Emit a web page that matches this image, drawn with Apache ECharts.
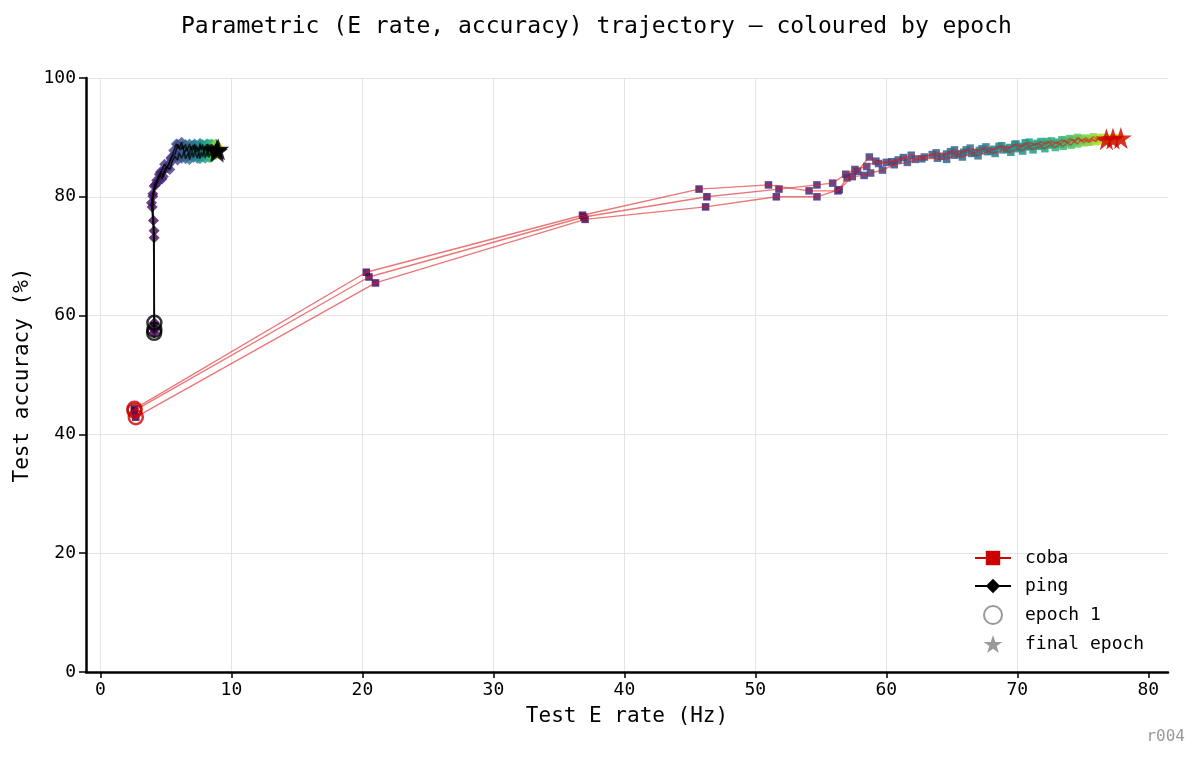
<!DOCTYPE html>
<html>
<head>
<meta charset="utf-8">
<script src="https://cdn.jsdelivr.net/npm/echarts@6/dist/echarts.min.js"></script>
<style>
html,body{margin:0;padding:0;background:#fff;}
#chart{width:1200px;height:761px;}
</style>
</head>
<body>
<div id="chart"></div>
<script>
// [test E rate (Hz), test accuracy (%)] for each epoch, one array per run
var cobaRun1 = [
	[2.6,44.3],[20.3,67.3],[36.8,76.9],[45.7,81.3],[51.0,82.0],[54.1,81.0],[56.3,81.0],
	[57.0,83.2],[57.8,84.3],[58.7,86.7],[59.4,85.6],
	[60.4,85.9],[61.3,86.6],[62.2,86.3],[63.5,87.1],
	[64.2,86.8],[64.9,87.6],[65.5,87.2],[66.1,87.9],[66.7,87.4],[67.3,88.1],[67.9,87.7],[68.6,88.5],[69.2,88.0],[69.8,88.8],
	[70.2,88.3],[70.6,89.1],[71.0,88.5],[71.5,89.0],[71.9,88.6],[72.3,89.3],[72.7,88.8],[73.0,89.2],[73.3,88.9],[73.6,89.5],
	[73.9,89.1],[74.2,89.7],[74.4,89.3],[74.7,89.8],[74.9,89.4],[75.2,89.6],[75.4,89.2],[75.7,89.8],[75.9,89.4],[76.1,89.7],
	[76.3,89.5],[76.5,89.9],[76.7,89.6],[76.9,89.7],[77.3,89.8]
];
var cobaRun2 = [
	[2.7,42.9],[21.0,65.5],[37.0,76.2],[46.2,78.3],[51.6,80.0],[54.7,80.0],[56.4,81.2],
	[57.4,83.4],[58.3,83.6],[58.8,84.0],[59.7,84.5],
	[60.6,85.4],[61.6,85.8],[62.7,86.4],[63.9,86.5],
	[64.6,86.3],[65.2,87.0],[65.8,86.7],[66.5,87.3],[67.0,86.9],[67.7,87.6],[68.3,87.3],[68.9,87.9],[69.5,87.5],[70.0,88.1],
	[70.4,87.7],[70.8,88.4],[71.2,87.9],[71.7,88.5],[72.1,88.1],[72.5,88.7],[72.9,88.3],[73.2,88.9],[73.5,88.5],[73.8,89.1],
	[74.1,88.7],[74.3,89.3],[74.6,88.9],[74.8,89.5],[75.1,89.1],[75.3,89.6],[75.5,89.2],[75.8,89.6],[76.0,89.3],[76.2,89.8],
	[76.4,89.4],[76.6,89.7],[76.7,89.5],[76.8,89.8],[76.8,89.7]
];
var cobaRun3 = [
	[2.6,44.0],[20.5,66.5],[36.9,76.6],[46.3,80.0],[51.8,81.3],[54.7,82.0],[55.9,82.3],
	[56.9,83.8],[57.6,84.6],[58.5,85.1],[59.2,86.0],
	[60.0,85.8],[60.9,86.2],[61.9,87.0],[62.9,86.7],
	[63.8,87.4],[64.6,87.2],[65.2,87.9],[65.9,87.5],[66.4,88.2],[67.1,87.8],[67.6,88.4],[68.2,88.0],[68.8,88.6],[69.4,88.3],
	[69.9,88.9],[70.4,88.5],[70.9,89.2],[71.4,88.7],[71.8,89.3],[72.2,88.9],[72.6,89.4],[73.0,89.0],[73.4,89.6],[73.7,89.2],
	[74.0,89.8],[74.3,89.4],[74.6,90.0],[74.9,89.5],[75.2,89.9],[75.5,89.6],[75.8,90.1],[76.1,89.7],[76.4,90.0],[76.7,89.6],
	[77.0,89.9],[77.2,89.6],[77.5,90.0],[77.7,89.8],[77.9,89.9]
];

var pingRun1 = [
	[4.12,58.8],[4.05,76.0],[4.0,80.1],[4.3,82.3],[4.5,83.8],[4.7,83.0],[4.9,84.6],[5.2,85.4],[5.4,86.6],[5.7,87.2],
	[5.9,88.8],[6.1,87.9],[6.3,88.6],[6.4,87.4],[6.6,88.2],[6.8,87.0],[6.9,88.5],[7.0,87.6],[7.2,88.9],[7.3,87.5],
	[7.4,88.3],[7.5,87.1],[7.6,88.7],[7.7,87.8],[7.8,88.4],[7.9,87.3],[8.0,88.6],[8.1,87.6],[8.1,88.9],[8.2,87.2],
	[8.3,88.5],[8.3,87.7],[8.4,88.8],[8.4,87.4],[8.5,88.3],[8.5,87.0],[8.6,88.7],[8.6,87.8],[8.7,88.4],[8.7,87.5],
	[8.8,88.9],[8.7,87.9],[8.8,88.2],[8.8,87.6],[8.9,88.6],[8.8,87.8],[8.9,88.3],[8.8,87.7],[8.9,88.1],[8.9,87.9]
];
var pingRun2 = [
	[4.12,57.6],[4.1,74.3],[3.95,78.3],[4.1,81.8],[4.3,82.8],[4.6,84.2],[4.8,83.4],[5.1,85.0],[5.3,84.6],[5.5,86.1],
	[5.7,86.8],[5.9,86.2],[6.0,87.4],[6.2,86.5],[6.4,87.6],[6.5,86.4],[6.7,87.3],[6.8,86.3],[7.0,87.5],[7.1,86.6],
	[7.2,87.7],[7.4,86.5],[7.5,87.4],[7.6,86.4],[7.7,87.6],[7.8,86.7],[7.9,87.8],[8.0,86.5],[8.1,87.5],[8.2,86.8],
	[8.2,87.9],[8.3,86.6],[8.4,87.6],[8.4,86.9],[8.5,88.0],[8.5,86.7],[8.6,87.7],[8.6,87.0],[8.7,88.1],[8.7,87.2],
	[8.7,88.3],[8.8,87.1],[8.8,87.9],[8.8,87.3],[8.9,88.2],[8.8,87.4],[8.9,87.8],[8.9,87.5],[9.0,87.9],[8.9,87.6]
];
var pingRun3 = [
	[4.1,57.1],[4.1,73.1],[3.9,79.0],[4.0,80.5],[4.2,82.0],[4.4,82.6],[4.6,84.0],[4.9,85.5],[5.1,84.9],[5.4,86.4],
	[5.6,87.8],[5.8,88.9],[6.0,88.1],[6.2,89.2],[6.3,88.0],[6.5,88.8],[6.6,87.7],[6.8,88.9],[6.9,87.9],[7.1,88.7],
	[7.2,87.6],[7.3,88.6],[7.5,87.8],[7.6,89.0],[7.7,88.1],[7.8,88.8],[7.9,87.9],[8.0,88.5],[8.1,87.6],[8.2,88.9],
	[8.3,88.2],[8.3,88.7],[8.4,87.8],[8.5,88.9],[8.5,88.0],[8.6,88.6],[8.6,87.7],[8.7,88.5],[8.7,88.0],[8.8,88.8],
	[8.8,87.9],[8.8,88.6],[8.9,88.0],[8.9,88.4],[8.9,87.8],[9.0,88.3],[8.9,88.1],[9.0,88.2],[9.0,87.9],[9.0,88.0]
];

var xTicks = [0,10,20,30,40,50,60,70,80];
var yTicks = [0,20,40,60,80,100];

var FONT = 'DejaVu Sans Mono';
var viridis = ['#440154','#482878','#3e4989','#31688e','#26828e','#1f9e89','#35b779','#6ece58','#b5de2b','#fde725'];
var starPath = 'path://M50 0 L61.23 34.55 L97.55 34.55 L68.17 55.9 L79.39 90.45 L50 69.1 L20.61 90.45 L31.83 55.9 L2.45 34.55 L38.77 34.55 Z';

var cobaRuns = [cobaRun1, cobaRun2, cobaRun3];
var pingRuns = [pingRun1, pingRun2, pingRun3];

// every point gets its epoch number as a 3rd value, used for the colour
function withEpoch(runs){
	var out = [];
	for(var r=0;r<runs.length;r++){
		for(var i=0;i<runs[r].length;i++){
			out.push([runs[r][i][0], runs[r][i][1], i+1]);
		}
	}
	return out;
}
function firsts(runs){
	return runs.map(function(r){ return r[0]; });
}
function lasts(runs){
	return runs.map(function(r){ return r[r.length-1]; });
}

var series = [
	{
		name:'coba pts', type:'scatter', symbol:'rect', symbolSize:7.5, z:2,
		itemStyle:{opacity:0.85},
		data: withEpoch(cobaRuns)
	},
	{
		name:'ping pts', type:'scatter', symbol:'diamond', symbolSize:11, z:2,
		itemStyle:{opacity:0.8},
		data: withEpoch(pingRuns)
	}
];
cobaRuns.forEach(function(run){
	series.push({
		name:'coba', type:'line', symbol:'rect', showSymbol:false, z:3,
		itemStyle:{color:'#cc0000'},
		lineStyle:{color:'#dd1c1c', width:1.4, opacity:0.6},
		emphasis:{disabled:true},
		data: run
	});
});
pingRuns.forEach(function(run){
	series.push({
		name:'ping', type:'line', symbol:'diamond', showSymbol:false, z:3,
		itemStyle:{color:'#000'},
		lineStyle:{color:'#000', width:1.6, opacity:0.75},
		emphasis:{disabled:true},
		data: run
	});
});
series.push(
	{
		name:'epoch 1', type:'scatter', symbol:'circle', symbolSize:14, z:4,
		itemStyle:{color:'transparent', borderColor:'#cc0000', borderWidth:2.5},
		data: firsts(cobaRuns)
	},
	{
		name:'epoch 1', type:'scatter', symbol:'circle', symbolSize:14, z:4,
		itemStyle:{color:'transparent', borderColor:'#000', borderWidth:2.5},
		data: firsts(pingRuns)
	},
	{
		name:'final epoch', type:'scatter', symbol:starPath, symbolSize:22, z:5,
		itemStyle:{color:'#cc0000'},
		data: lasts(cobaRuns)
	},
	{
		name:'final epoch', type:'scatter', symbol:starPath, symbolSize:22, z:5,
		itemStyle:{color:'#000'},
		data: lasts(pingRuns)
	}
);

var myChart = echarts.init(document.getElementById('chart'));
myChart.setOption({
	animation:false,
	backgroundColor:'#fff',
	textStyle:{fontFamily:FONT},
	title:{
		text:'Parametric (E rate, accuracy) trajectory — coloured by epoch',
		left:176, top:11,
		textStyle:{fontFamily:FONT, fontSize:23, fontWeight:'normal', color:'#000'}
	},
	grid:{left:86, right:32, top:78, bottom:89},
	xAxis:{
		type:'value', min:-1.1, max:81.5,
		name:'Test E rate (Hz)', nameLocation:'middle', nameGap:34,
		nameTextStyle:{fontFamily:FONT, fontSize:21, color:'#000'},
		axisLine:{show:true, onZero:false, lineStyle:{color:'#000', width:2.5}},
		axisTick:{show:true, length:6, customValues:xTicks, lineStyle:{color:'#000', width:1.5}},
		axisLabel:{customValues:xTicks, fontFamily:FONT, fontSize:18, color:'#000', margin:9},
		splitLine:{show:true, showMaxLine:false, lineStyle:{color:'#dddddd', width:0.8}}
	},
	yAxis:{
		type:'value', min:0, max:100, interval:20,
		name:'Test accuracy (%)', nameLocation:'middle', nameGap:47,
		nameTextStyle:{fontFamily:FONT, fontSize:21, color:'#000'},
		axisLine:{show:true, onZero:false, lineStyle:{color:'#000', width:2.5}},
		axisTick:{show:true, length:7, lineStyle:{color:'#000', width:1.5}},
		axisLabel:{fontFamily:FONT, fontSize:18, color:'#000', margin:10},
		splitLine:{show:true, lineStyle:{color:'#dddddd', width:0.8}}
	},
	visualMap:{
		type:'continuous', show:false, dimension:2, min:1, max:50,
		seriesIndex:[0,1],
		inRange:{color:viridis}
	},
	legend:{
		orient:'vertical', left:969, top:544,
		itemWidth:36, itemHeight:18, itemGap:10,
		selectedMode:false,
		textStyle:{fontFamily:FONT, fontSize:18, color:'#000', padding:[0,0,0,9]},
		data:[
			{name:'coba', itemStyle:{color:'#cc0000'}, lineStyle:{color:'#cc0000', width:2, opacity:1}},
			{name:'ping', itemStyle:{color:'#000'}, lineStyle:{color:'#000', width:2, opacity:1}},
			{name:'epoch 1', icon:'circle', itemStyle:{color:'transparent', borderColor:'#808080', borderWidth:2}},
			{name:'final epoch', icon:starPath, itemStyle:{color:'#808080'}}
		]
	},
	graphic:[{
		type:'text', right:15, bottom:16,
		style:{text:'r004', fontFamily:FONT, fontSize:16, fill:'#999'}
	}],
	series: series
});
</script>
</body>
</html>
